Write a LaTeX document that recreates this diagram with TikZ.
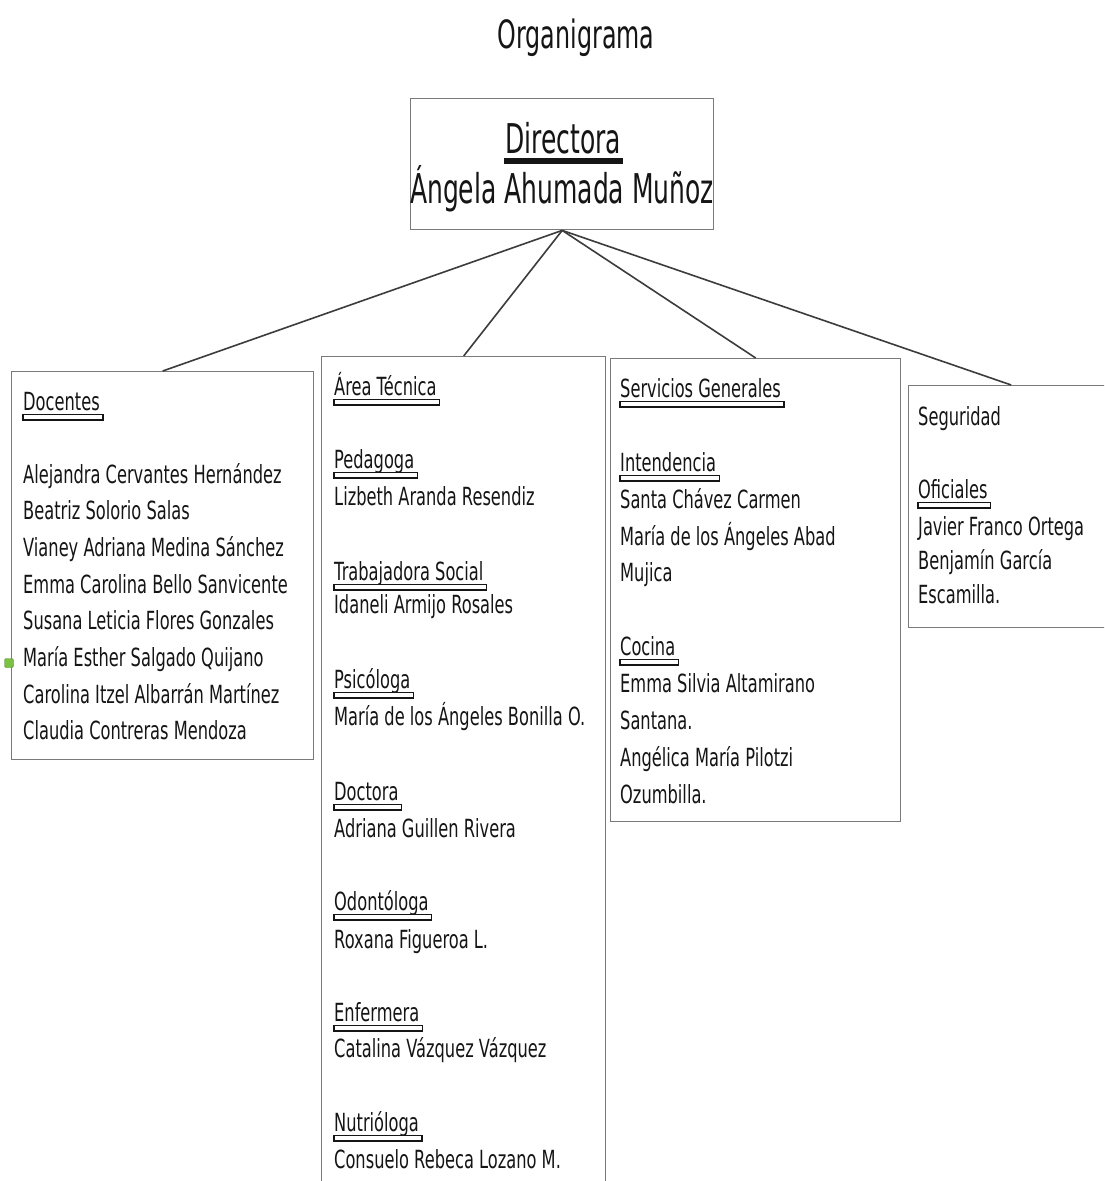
\documentclass[tikz,border=0pt]{standalone}
\usepackage{fontspec}
\usetikzlibrary{calc}
\newfontfamily\cf{DejaVu Sans}[FakeStretch=0.65]
\newfontfamily\cfw{DejaVu Sans}[FakeStretch=0.61]
\definecolor{ink}{HTML}{151515}
\definecolor{boxgray}{HTML}{7A7A7A}
\definecolor{linegray}{HTML}{3C3C3C}
\definecolor{handle}{HTML}{7CC242}
\newcommand\ulbox[1]{\draw[ulstyle] ($(#1.base west)+(0pt,-4.5pt)$) rectangle ($(#1.base east)+(3pt,-10pt)$);}
\begin{document}
\begin{tikzpicture}[x=1pt,y=-1pt,
  box/.style={draw=boxgray, line width=1.4pt, fill=white, inner sep=0pt, rectangle},
  txt/.style={anchor=base west, inner sep=0pt, font=\cf\fontsize{25}{30}\selectfont, text=ink},
  bigtxt/.style={anchor=base, inner sep=0pt, font=\cfw\fontsize{41}{48}\selectfont, text=ink},
  titletxt/.style={anchor=base, inner sep=0pt, font=\cfw\fontsize{39}{46}\selectfont, text=ink},
  ulstyle/.style={draw=ink, line width=1.2pt, fill=white},
  conn/.style={draw=linegray, line width=1.6pt}]
\useasboundingbox (0,0) rectangle (1104,1181);
\clip (0,0) rectangle (1104,1181);
\fill[white] (0,0) rectangle (1104,1181);

% title
\node[titletxt] (title) at (576,48) {Organigrama};

% boxes
\node[box, anchor=north west, minimum width=303pt, minimum height=131pt] (dir) at (410,98) {};
\node[box, anchor=north west, minimum width=302pt, minimum height=388pt] (doc) at (11,371) {};
\node[box, anchor=north west, minimum width=284pt, minimum height=850pt] (tec) at (321,356) {};
\node[box, anchor=north west, minimum width=290pt, minimum height=463pt] (ser) at (610,358) {};
\node[box, anchor=north west, minimum width=205pt, minimum height=242pt] (seg) at (908,385) {};

% connectors
\draw[conn] (dir.south) -- (doc.north);
\draw[conn] (dir.south) -- (tec.north);
\draw[conn] (dir.south) -- (ser.north);
\draw[conn] (dir.south) -- (seg.north);

% director
\node[bigtxt] (dirt) at (563,153) {Directora};
\fill[ink] ($(dirt.base west)+(-1pt,-5pt)$) rectangle ($(dirt.base east)+(2pt,-11pt)$);
\node[bigtxt] (dirn) at (562,203) {Ángela Ahumada Muñoz};

% Docentes
\node[txt] (doch) at (23,410) {Docentes}; \ulbox{doch}
\node[txt] (d1) at (23,483.0) {Alejandra Cervantes Hernández};
\node[txt] (d2) at (23,519.7) {Beatriz Solorio Salas};
\node[txt] (d3) at (23,556.4) {Vianey Adriana Medina Sánchez};
\node[txt] (d4) at (23,593.1) {Emma Carolina Bello Sanvicente};
\node[txt] (d5) at (23,629.8) {Susana Leticia Flores Gonzales};
\node[txt] (d6) at (23,666.5) {María Esther Salgado Quijano};
\node[txt] (d7) at (23,703.2) {Carolina Itzel Albarrán Martínez};
\node[txt] (d8) at (23,739.9) {Claudia Contreras Mendoza};
\node[draw=handle!70!black, fill=handle, rounded corners=1.5pt, minimum size=9pt, inner sep=0pt] (hnd) at (9,663) {};

% Area Tecnica
\node[txt] (teh) at (334,395) {Área Técnica}; \ulbox{teh}
\node[txt] (t1h) at (334,468) {Pedagoga}; \ulbox{t1h}
\node[txt] (t1) at (334,505) {Lizbeth Aranda Resendiz};
\node[txt] (t2h) at (334,580) {Trabajadora Social}; \ulbox{t2h}
\node[txt] (t2) at (334,613) {Idaneli Armijo Rosales};
\node[txt] (t3h) at (334,688) {Psicóloga}; \ulbox{t3h}
\node[txt] (t3) at (334,725) {María de los Ángeles Bonilla O.};
\node[txt] (t4h) at (334,800) {Doctora}; \ulbox{t4h}
\node[txt] (t4) at (334,837) {Adriana Guillen Rivera};
\node[txt] (t5h) at (334,910) {Odontóloga}; \ulbox{t5h}
\node[txt] (t5) at (334,948) {Roxana Figueroa L.};
\node[txt] (t6h) at (334,1021) {Enfermera}; \ulbox{t6h}
\node[txt] (t6) at (334,1057) {Catalina Vázquez Vázquez};
\node[txt] (t7h) at (334,1131) {Nutrióloga}; \ulbox{t7h}
\node[txt] (t7) at (334,1168) {Consuelo Rebeca Lozano M.};

% Servicios Generales
\node[txt] (seh) at (620,397) {Servicios Generales}; \ulbox{seh}
\node[txt] (s1h) at (620,471) {Intendencia}; \ulbox{s1h}
\node[txt] (s1) at (620,508) {Santa Chávez Carmen};
\node[txt] (s2) at (620,545) {María de los Ángeles Abad};
\node[txt] (s3) at (620,581) {Mujica};
\node[txt] (s4h) at (620,655) {Cocina}; \ulbox{s4h}
\node[txt] (s4) at (620,692) {Emma Silvia Altamirano};
\node[txt] (s5) at (620,729) {Santana.};
\node[txt] (s6) at (620,766) {Angélica María Pilotzi};
\node[txt] (s7) at (620,803) {Ozumbilla.};

% Seguridad
\node[txt] (sgh) at (918,425) {Seguridad};
\node[txt] (g1h) at (918,498) {Oficiales}; \ulbox{g1h}
\node[txt] (g1) at (918,535) {Javier Franco Ortega};
\node[txt] (g2) at (918,569) {Benjamín García};
\node[txt] (g3) at (918,603) {Escamilla.};
\end{tikzpicture}
\end{document}
